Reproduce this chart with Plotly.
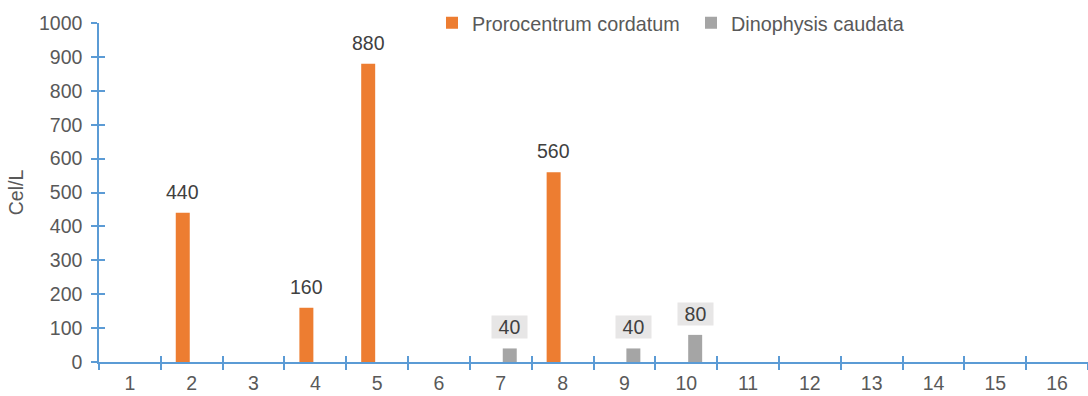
import plotly.graph_objects as go

# Sampling stations and cell densities (Cel/L)
stations = [str(i) for i in range(1, 17)]
prorocentrum = [None, 440, None, 160, 880, None, None, 560, None, None, None, None, None, None, None, None]
dinophysis = [None, None, None, None, None, None, 40, None, 40, 80, None, None, None, None, None, None]

ORANGE = "#ED7D31"
GREY = "#A5A5A5"
AXIS_BLUE = "#5B9BD5"
TICK_TXT = "#595959"
LABEL_TXT = "#404040"
FONT = "Liberation Sans, Arial, sans-serif"
FS = 19.5

fig = go.Figure()
fig.add_trace(go.Bar(x=stations, y=prorocentrum, name="Prorocentrum cordatum",
                     marker=dict(color=ORANGE, line=dict(width=0))))
fig.add_trace(go.Bar(x=stations, y=dinophysis, name="Dinophysis caudata",
                     marker=dict(color=GREY, line=dict(width=0))))

# helper trace so the overlay axes (inner half of the crossing ticks) are drawn
fig.add_trace(go.Scatter(x=stations, y=[None] * len(stations), xaxis="x2", yaxis="y2",
                         mode="lines", showlegend=False, hoverinfo="skip"))

# value labels above the bars (x given as category index)
offset = 9
for series, shift, bg in ((prorocentrum, -offset, None), (dinophysis, offset, "#E7E6E6")):
    for idx, v in enumerate(series):
        if v is None:
            continue
        ann = dict(x=idx, y=v, xref="x", yref="y", text=str(v), showarrow=False,
                   xshift=shift, yshift=21, yanchor="middle", xanchor="center",
                   font=dict(family=FONT, size=FS, color=LABEL_TXT))
        if bg:
            ann.update(bgcolor=bg, width=35, height=22, borderpad=0)
        fig.add_annotation(**ann)

fig.update_layout(
    width=1088, height=396, autosize=False,
    margin=dict(l=99, r=0, t=23, b=34),
    paper_bgcolor="white", plot_bgcolor="white",
    barmode="group", bargap=0.42, bargroupgap=0.22,
    font=dict(family=FONT, size=FS, color=TICK_TXT),
    legend=dict(orientation="h", x=0.3367, xanchor="left", y=1.0, yanchor="middle",
                entrywidth=214, entrywidthmode="pixels",
                font=dict(family=FONT, size=19.8, color=TICK_TXT),
                bgcolor="rgba(0,0,0,0)"),
    xaxis=dict(type="category", categoryorder="array", categoryarray=stations,
               range=[-0.5, len(stations) - 0.5], tickson="boundaries",
               ticks="outside", ticklen=6, tickwidth=1.5, tickcolor=AXIS_BLUE,
               showline=True, linecolor=AXIS_BLUE, linewidth=1.5,
               showgrid=False, zeroline=False, ticklabelstandoff=3,
               tickfont=dict(family=FONT, size=FS, color=TICK_TXT)),
    yaxis=dict(range=[0, 1000], dtick=100, ticks="outside", ticklen=6, tickwidth=1.5,
               tickcolor=AXIS_BLUE, showline=True, linecolor=AXIS_BLUE, linewidth=1.5,
               showgrid=False, zeroline=False, ticklabelstandoff=5,
               tickfont=dict(family=FONT, size=FS, color=TICK_TXT),
               title=dict(text="Cel/L", standoff=10,
                          font=dict(family=FONT, size=FS, color=TICK_TXT))),
    xaxis2=dict(type="category", categoryorder="array", categoryarray=stations,
                overlaying="x", anchor="y", side="bottom",
                range=[-0.5, len(stations) - 0.5], tickson="boundaries",
                ticks="inside", ticklen=6, tickwidth=1.5, tickcolor=AXIS_BLUE,
                showticklabels=False, showline=False, showgrid=False, zeroline=False),
    yaxis2=dict(overlaying="y", anchor="x", side="left", range=[0, 1000], dtick=100,
                ticks="inside", ticklen=6, tickwidth=1.5, tickcolor=AXIS_BLUE,
                showticklabels=False, showline=False, showgrid=False, zeroline=False),
)

fig.write_html("out.html")
